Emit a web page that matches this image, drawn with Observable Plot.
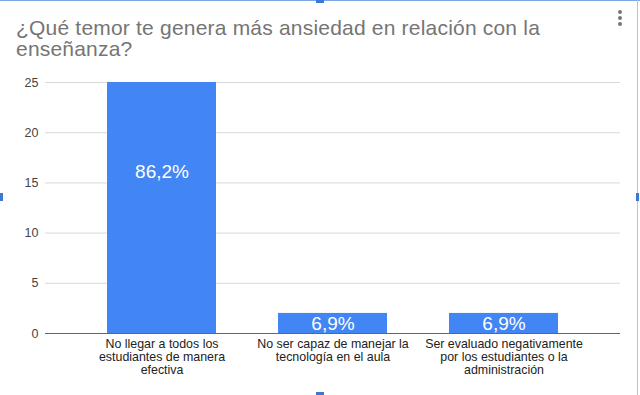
<!DOCTYPE html>
<html>
<head>
<meta charset="utf-8">
<script src="https://cdn.jsdelivr.net/npm/d3@7"></script>
<script src="https://cdn.jsdelivr.net/npm/@observablehq/plot@0.6"></script>
<style>
  html, body { margin: 0; padding: 0; background: #fff; }
  #wrap { position: relative; width: 640px; height: 395px; overflow: hidden; font-family: "Liberation Sans", Arial, sans-serif; }
  #title { position: absolute; left: 16px; top: 17px; width: 590px; font-size: 21px; line-height: 21px; color: #757575; letter-spacing: 0.2px; }
  #chart { position: absolute; left: 0; top: 60px; }
  #dots { position: absolute; left: 618px; top: 10px; width: 5px; }
  #dots span { display: block; width: 4px; height: 4px; border-radius: 2px; background: #777; margin-bottom: 2px; }
  .edge-top { position: absolute; left: 0; top: 0; width: 640px; height: 1px; background: #7aa7e8; }
  .edge-right { position: absolute; left: 637px; top: 0; width: 1px; height: 395px; background: #a9c6ef; }
  .h { position: absolute; background: #3c78d8; }
</style>
</head>
<body>
<div id="wrap">
  <div class="edge-top"></div>
  <div class="edge-right"></div>
  <div class="h" style="left:0;top:193px;width:3px;height:8px"></div>
  <div class="h" style="left:636px;top:193px;width:3px;height:8px"></div>
  <div class="h" style="left:316px;top:0;width:8px;height:3px"></div>
  <div class="h" style="left:316px;top:392px;width:8px;height:3px"></div>
  <div id="title">¿Qué temor te genera más ansiedad en relación con la<br>enseñanza?</div>
  <div id="dots"><span></span><span></span><span></span></div>
  <div id="chart"></div>
</div>
<script>
const categories = [
  "No llegar a todos los estudiantes de manera efectiva",
  "No ser capaz de manejar la tecnología en el aula",
  "Ser evaluado negativamente por los estudiantes o la administración"
];
const tickLabels = [
  "No llegar a todos los\nestudiantes de manera\nefectiva",
  "No ser capaz de manejar la\ntecnología en el aula",
  "Ser evaluado negativamente\npor los estudiantes o la\nadministración"
];
const values = [25, 2, 2];
const percentLabels = ["86,2%", "6,9%", "6,9%"];
const yTicks = [0, 5, 10, 15, 20, 25];

const data = categories.map((c, i) => ({ cat: c, value: values[i], label: percentLabels[i] }));
const labelMap = new Map(categories.map((c, i) => [c, tickLabels[i]]));

const plot = Plot.plot({
  width: 640,
  height: 335,
  marginTop: 22,
  marginBottom: 62,
  marginLeft: 45,
  marginRight: 20,
  style: { fontFamily: "'Liberation Sans', Arial, sans-serif", fontSize: "12px", color: "#222", background: "transparent" },
  x: { domain: categories, padding: 0.36, label: null },
  y: { domain: [0, 25], label: null },
  marks: [
    Plot.gridY(yTicks, { stroke: "#d9d9d9", strokeOpacity: 1 }),
    Plot.axisY(yTicks, { tickSize: 0, tickPadding: 7, fill: "#444", fontSize: 12.5, label: null }),
    Plot.barY(data, { x: "cat", y: "value", fill: "#4285f4" }),
    Plot.ruleY([0], { stroke: "#666", strokeWidth: 1 }),
    Plot.axisX({ tickSize: 0, tickPadding: 6, tickFormat: d => labelMap.get(d), fill: "#222", fontSize: 12.4, lineHeight: 1.02, label: null, textOverflow: null }),
    Plot.text(data, {
      x: "cat",
      y: d => d.value > 10 ? d.value * 0.645 : d.value / 2,
      text: "label",
      fill: "white",
      fontSize: 19,
      lineAnchor: "middle"
    })
  ]
});
document.getElementById("chart").appendChild(plot);
</script>
</body>
</html>
